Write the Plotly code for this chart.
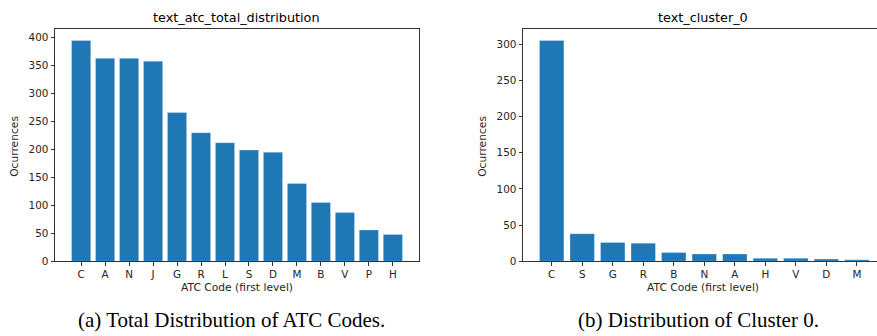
import plotly.graph_objects as go

# Data
total_codes = ["C", "A", "N", "J", "G", "R", "L", "S", "D", "M", "B", "V", "P", "H"]
total_counts = [395, 363, 363, 358, 266, 230, 212, 199, 195, 139, 105, 87, 56, 48]

cluster_codes = ["C", "S", "G", "R", "B", "N", "A", "H", "V", "D", "M"]
cluster_counts = [305, 38, 26, 25, 12, 10, 10, 4, 4, 3, 2]

BLUE = "#1f77b4"
TXT = "#262626"
SPINE = "#333333"
FONT = "DejaVu Sans"

W, H = 877, 336

def px_x(p):
    return p / W

def px_y(p):
    return 1 - p / H

fig = go.Figure()
bar_line = dict(color="rgba(255,255,255,0.45)", width=0.6)
fig.add_trace(go.Bar(x=total_codes, y=total_counts, marker=dict(color=BLUE, line=bar_line),
                     xaxis="x", yaxis="y", showlegend=False, hoverinfo="skip"))
fig.add_trace(go.Bar(x=cluster_codes, y=cluster_counts, marker=dict(color=BLUE, line=bar_line),
                     xaxis="x2", yaxis="y2", showlegend=False, hoverinfo="skip"))

axis_common = dict(showgrid=False, zeroline=False, showline=True, linecolor=SPINE, linewidth=1,
                   ticks="outside", ticklen=3.5, tickwidth=0.8, tickcolor=SPINE,
                   tickfont=dict(family=FONT, size=10.4, color=TXT))

fig.update_layout(
    width=W, height=H,
    margin=dict(l=0, r=0, t=0, b=0),
    paper_bgcolor="white", plot_bgcolor="white",
    bargap=0.2,
    xaxis=dict(domain=[px_x(55), px_x(419)], anchor="y", type="category",
               range=[-1.09, 14.09], mirror=True, fixedrange=True, **axis_common),
    yaxis=dict(domain=[px_y(266), px_y(30)], anchor="x", range=[0, 414.7], fixedrange=True,
               tickvals=[0, 50, 100, 150, 200, 250, 300, 350, 400], mirror=True, **axis_common),
    xaxis2=dict(domain=[px_x(523), 1.0], anchor="y2", type="category",
                range=[-0.94, 10.66], mirror=True, fixedrange=True, **axis_common),
    yaxis2=dict(domain=[px_y(266), px_y(30)], anchor="x2", range=[0, 320.3], fixedrange=True,
                tickvals=[0, 50, 100, 150, 200, 250, 300], mirror=False, **axis_common),
)

ann = []
# titles
ann.append(dict(text="text_atc_total_distribution", x=px_x(236.5), y=px_y(18), xref="paper", yref="paper",
                showarrow=False, font=dict(family=FONT, size=12.8, color="black"), xanchor="center", yanchor="middle"))
ann.append(dict(text="text_cluster_0", x=px_x(703), y=px_y(18), xref="paper", yref="paper",
                showarrow=False, font=dict(family=FONT, size=12.8, color="black"), xanchor="center", yanchor="middle"))
# x axis titles
for cx in [236.5, 703]:
    ann.append(dict(text="ATC Code (first level)", x=px_x(cx), y=px_y(292.5), xref="paper", yref="paper",
                    showarrow=False, font=dict(family=FONT, size=10.7, color=TXT), xanchor="center", yanchor="middle"))
# y axis titles
for lx in [15, 483]:
    ann.append(dict(text="Ocurrences", x=px_x(lx), y=px_y(149.5), xref="paper", yref="paper", textangle=-90,
                    showarrow=False, font=dict(family=FONT, size=10.7, color=TXT), xanchor="center", yanchor="middle"))
# captions
ann.append(dict(text="(a) Total Distribution of ATC Codes.", x=px_x(231.5), y=px_y(326), xref="paper", yref="paper",
                showarrow=False, font=dict(family="Liberation Serif", size=21, color="black"), xanchor="center", yanchor="middle"))
ann.append(dict(text="(b) Distribution of Cluster 0.", x=px_x(698.5), y=px_y(326), xref="paper", yref="paper",
                showarrow=False, font=dict(family="Liberation Serif", size=21, color="black"), xanchor="center", yanchor="middle"))

fig.update_layout(annotations=ann)

fig.write_html("out.html", config={"displayModeBar": False},
               post_script="document.body.style.margin='0';document.body.style.overflow='hidden';")
